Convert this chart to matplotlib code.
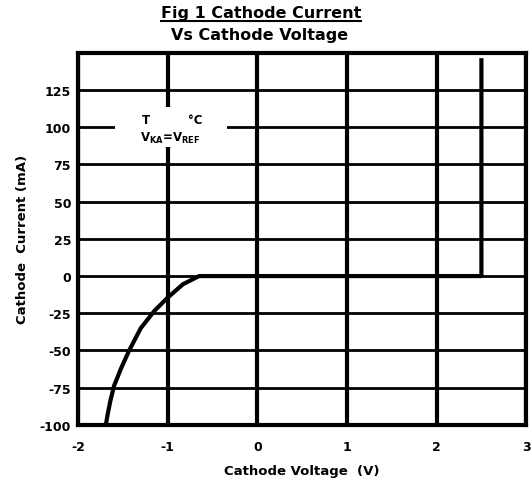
import matplotlib
matplotlib.use("Agg")
import matplotlib.pyplot as plt
from matplotlib.patches import Rectangle

# cathode current vs cathode voltage
volts_curve = [-1.69, -1.67, -1.64, -1.60, -1.52, -1.43, -1.30, -1.15, -1.00, -0.83, -0.65, 2.50, 2.50]
amps_curve = [-100, -93, -84, -74, -62, -50, -35, -23.5, -14.5, -5.5, 0, 0, 145]

x_ticks = [-2, -1, 0, 1, 2, 3]
y_ticks = [-100, -75, -50, -25, 0, 25, 50, 75, 100, 125]

plt.rcParams['font.family'] = ['DejaVu Sans']
plt.rcParams['font.weight'] = 'bold'
plt.rcParams['axes.unicode_minus'] = False

fig = plt.figure(figsize=(5.31, 4.89), dpi=100)
ax = fig.add_axes([0.147, 0.129, 0.844, 0.761])

ax.set_xlim(-2, 3)
ax.set_ylim(-100, 150)
ax.set_xticks(x_ticks)
ax.set_yticks(y_ticks)
ax.tick_params(axis='x', length=0, labelsize=9, pad=11)
ax.tick_params(axis='y', length=0, labelsize=9, pad=5)
for lab in ax.get_xticklabels() + ax.get_yticklabels():
    lab.set_fontweight('bold')

ax.xaxis.grid(True, color='black', lw=3)
ax.yaxis.grid(True, color='black', lw=2)
ax.set_axisbelow(True)
for s in ax.spines.values():
    s.set_linewidth(3)

ax.plot(volts_curve, amps_curve, color='black', lw=3, zorder=3,
        solid_joinstyle='round')

# box that hides the grid behind the conditions note
ax.add_patch(Rectangle((0.083, 0.747), 0.25, 0.108, transform=ax.transAxes,
                       facecolor='white', edgecolor='none', zorder=2))
ax.text(0.152, 0.82, 'T', transform=ax.transAxes, fontsize=8.5, fontweight='bold',
        ha='center', va='center')
ax.text(0.262, 0.82, '°C', transform=ax.transAxes, fontsize=8.5, fontweight='bold',
        ha='center', va='center')
ax.text(0.205, 0.772, r'V$_{\mathbf{KA}}$=V$_{\mathbf{REF}}$', transform=ax.transAxes,
        fontsize=8.5, fontweight='bold', ha='center', va='center')

ax.set_xlabel('Cathode Voltage  (V)', fontsize=9.5, fontweight='bold', labelpad=8)
ax.set_ylabel('Cathode  Current (mA)', fontsize=9.5, fontweight='bold', labelpad=8)

t1 = fig.text(0.492, 0.963, 'Fig 1 Cathode Current', ha='center', fontsize=11.5,
              fontweight='bold', va='baseline')
fig.text(0.488, 0.918, 'Vs Cathode Voltage', ha='center', fontsize=11.5,
         fontweight='bold', va='baseline')

# underline first title line
fig.canvas.draw()
bb = t1.get_window_extent().transformed(fig.transFigure.inverted())
fig.add_artist(plt.Line2D([bb.x0, bb.x1], [0.956, 0.956], color='black', lw=1.5))

fig.savefig('out.png', dpi=100)
